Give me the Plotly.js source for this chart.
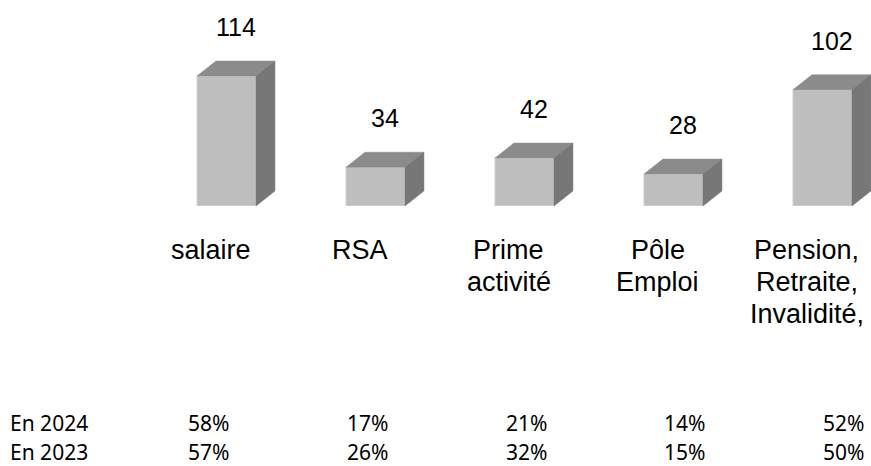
<!DOCTYPE html>
<html><head><meta charset="utf-8">
<script src="https://cdn.plot.ly/plotly-3.0.1.min.js"></script>
<style>html,body{margin:0;padding:0;background:#fff}#chart{width:871px;height:466px}</style>
</head><body><div id="chart"></div>
<script>
// ---- data ----
const categories = ["salaire", "RSA", "Prime<br>activité", "Pôle<br>Emploi", "Pension,<br>Retraite,<br>Invalidité,"];
const values = [114, 34, 42, 28, 102];
const rowLabels = ["En 2024", "En 2023"];
const pct2024 = ["58%", "17%", "21%", "14%", "52%"];
const pct2023 = ["57%", "26%", "32%", "15%", "50%"];

// ---- style / geometry ----
const barW = 0.396;      // front face width (category units)
const depX = 0.1275;     // 3D depth offset, x (category units)
const depY = 13.16;      // 3D depth offset, y (data units)
const FRONT = "#bebebe", TOP = "#8b8b8b", SIDE = "#777777";

const idx = values.map((_, i) => i);

// top faces and side faces built from the values
const topX = [], topY = [], sideX = [], sideY = [];
values.forEach((v, i) => {
  const l = i - barW / 2, r = i + barW / 2;
  topX.push(l, r, r + depX, l + depX, l, null);
  topY.push(v, v, v + depY, v + depY, v, null);
  sideX.push(r, r + depX, r + depX, r, r, null);
  sideY.push(0, depY, v + depY, v, 0, null);
});

const traces = [
  {type: "bar", x: idx, y: values, width: barW,
   marker: {color: FRONT, line: {color: "#d6d6d6", width: 1}}, hoverinfo: "none"},
  {type: "scatter", mode: "lines", x: topX, y: topY, fill: "toself",
   fillcolor: TOP, line: {color: TOP, width: 0.5}, hoverinfo: "none"},
  {type: "scatter", mode: "lines", x: sideX, y: sideY, fill: "toself",
   fillcolor: SIDE, line: {color: SIDE, width: 0.5}, hoverinfo: "none"}
];

const annotations = [];
const valFont = {family: "Liberation Sans, Arial, sans-serif", size: 25, color: "#000"};
const catFont = {family: "Liberation Sans, Arial, sans-serif", size: 27, color: "#000"};
const tblFont = {family: "Noto Sans, sans-serif", size: 21, color: "#000"};

// value labels
values.forEach((v, i) => {
  annotations.push({xref: "x", yref: "y", x: i + depX / 2, y: v + depY, text: String(v),
    showarrow: false, xanchor: "center", yanchor: "middle", yshift: 34, font: valFont});
});
// category labels (one annotation per line, 32px line pitch)
categories.forEach((c, i) => {
  c.split("<br>").forEach((line, k) => {
    annotations.push({xref: "x", yref: "paper", x: i, y: 0, text: line, showarrow: false,
      xanchor: "center", yanchor: "middle", yshift: -44 - 32 * k, xshift: -15.5, font: catFont});
  });
});
// table rows
[pct2024, pct2023].forEach((row, r) => {
  const ys = -217 - 29 * r;
  annotations.push({xref: "paper", yref: "paper", x: 0, y: 0, text: rowLabels[r], showarrow: false,
    xanchor: "left", yanchor: "middle", xshift: 9, yshift: ys, borderpad: 0, font: tblFont});
  row.forEach((t, i) => {
    annotations.push({xref: "x", yref: "paper", x: i, y: 0, text: t, showarrow: false,
      xanchor: "center", yanchor: "middle", xshift: -18 + 9.8 * i, yshift: ys, borderpad: 0, font: tblFont});
  });
});

const layout = {
  width: 871, height: 466,
  margin: {l: 0, r: 0, t: 0, b: 260},
  paper_bgcolor: "#fff", plot_bgcolor: "#fff",
  showlegend: false,
  xaxis: {range: [-1.52, 4.326], visible: false, fixedrange: true},
  yaxis: {range: [0, 180.7], visible: false, fixedrange: true},
  annotations: annotations
};

Plotly.newPlot("chart", traces, layout, {displayModeBar: false, staticPlot: true});
</script>
</body></html>
